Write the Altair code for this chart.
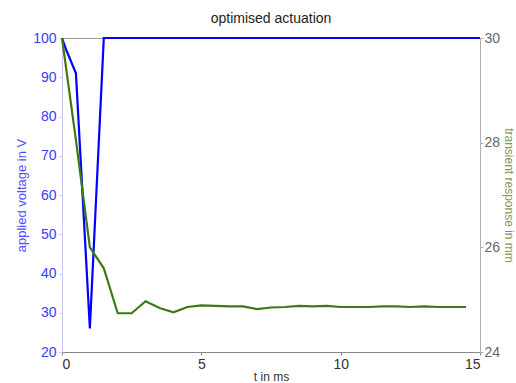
import altair as alt
import pandas as pd

# applied voltage (left axis, V)
volt_t = [0, 0.15, 0.5, 1.0, 1.5, 15]
volt_v = [100, 97, 91, 26, 100, 100]

# transient response (right axis, mm)
resp_t = [0, 0.5, 1.0, 1.5, 2.0, 2.5, 3.0, 3.5, 4.0, 4.5, 5.0, 5.5, 6.0, 6.5, 7.0, 7.5,
          8.0, 8.5, 9.0, 9.5, 10.0, 10.5, 11.0, 11.5, 12.0, 12.5, 13.0, 13.5, 14.0, 14.5]
resp_v = [30.0, 28.05, 26.0, 25.6, 24.74, 24.74, 24.97, 24.84, 24.76, 24.86, 24.89, 24.88,
          24.87, 24.87, 24.82, 24.85, 24.86, 24.88, 24.87, 24.88, 24.86, 24.86, 24.86, 24.87,
          24.87, 24.86, 24.87, 24.86, 24.86, 24.86]

left_ticks = [20, 30, 40, 50, 60, 70, 80, 90, 100]
right_ticks = [24, 26, 28, 30]
x_ticks = [0, 5, 10, 15]

BLUE = "#0000ff"
GREEN = "#3d7a17"
FONT = "Liberation Sans"

volt_df = pd.DataFrame({"t": volt_t, "v": volt_v})
resp_df = pd.DataFrame({"t": resp_t, "r": resp_v})

x_enc = alt.X("t:Q", scale=alt.Scale(domain=[0, 15], nice=False),
              axis=alt.Axis(values=x_ticks, title="t in ms", grid=False,
                            tickSize=3, labelPadding=2, titlePadding=0,
                            labelFontSize=14, titleFontSize=12, titleFontWeight="normal",
                            labelColor="#333333", titleColor="#333333"))

volt = alt.Chart(volt_df).mark_line(color=BLUE, strokeWidth=2.2).encode(
    x=x_enc,
    y=alt.Y("v:Q", scale=alt.Scale(domain=[20, 100], nice=False),
            axis=alt.Axis(values=left_ticks, title="applied voltage in V", grid=False,
                          orient="left", labelColor="#3a3aff", titleColor="#5050ff",
                          domainColor="#c8c8f0", tickColor="#c8c8f0", tickSize=3,
                          labelFontSize=14, titleFontSize=13, titleFontWeight="normal",
                          labelPadding=3, titlePadding=4)),
)

resp = alt.Chart(resp_df).mark_line(color=GREEN, strokeWidth=2.2).encode(
    x=x_enc,
    y=alt.Y("r:Q", scale=alt.Scale(domain=[24, 30], nice=False),
            axis=alt.Axis(values=right_ticks, title="transient response in mm", grid=False,
                          orient="right", labelColor="#666666", titleColor="#7a9a5a",
                          domainColor="#b0b0b0", tickColor="#b0b0b0", tickSize=3,
                          labelFontSize=14, titleFontSize=12, titleFontWeight="normal",
                          labelPadding=1, titlePadding=2)),
)

chart = alt.layer(volt, resp).resolve_scale(y="independent").properties(
    width=418, height=314,
    title=alt.TitleParams("optimised actuation", fontSize=14, font=FONT,
                          fontWeight="normal", color="#222222", offset=5),
    autosize=alt.AutoSizeParams(type="none"),
    padding={"left": 62, "top": 38, "right": 36, "bottom": 31},
    background="white",
).configure_view(
    stroke="#999999", strokeWidth=1
).configure_axis(
    labelFont=FONT, titleFont=FONT, domainColor="#888888", tickColor="#888888"
)

chart.save("out.html", embed_options={"renderer": "svg", "actions": False})
